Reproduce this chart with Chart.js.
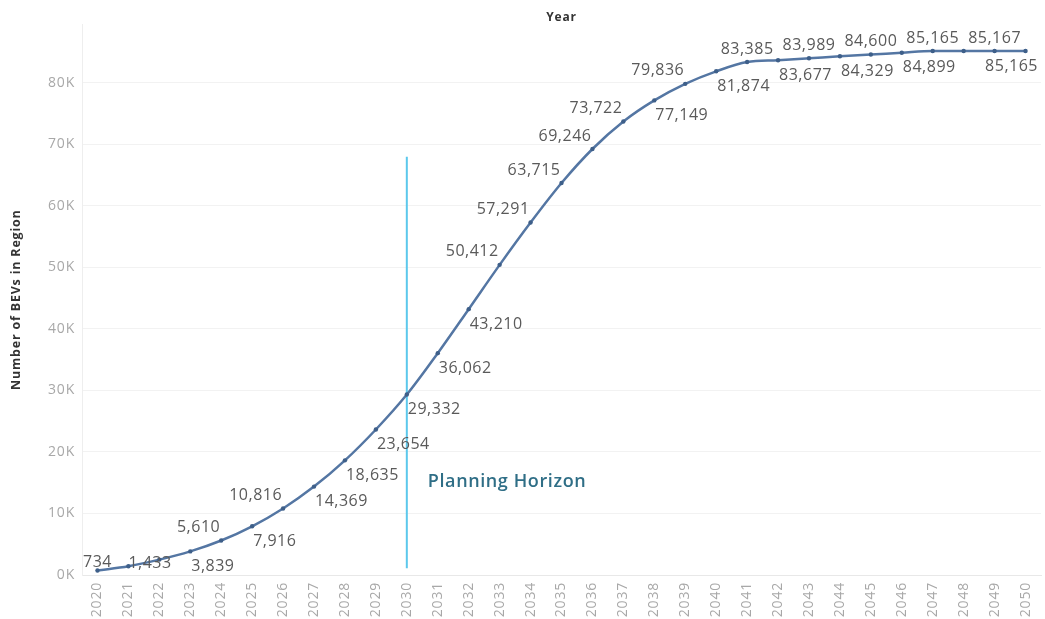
<!DOCTYPE html>
<html lang="en">
<head>
    <meta charset="UTF-8">
    <title>Number of BEVs in Region</title>
    <script src="https://cdn.jsdelivr.net/npm/chart.js"></script>
    <style>
        html, body {
            margin: 0;
            padding: 0;
            background: #fff;
            overflow: hidden;
        }
        canvas {
            display: block;
        }
    </style>
</head>
<body>
    <canvas id="bevChart" width="1045" height="619"></canvas>

    <script>
        // data
        const years = ['2020','2021','2022','2023','2024','2025','2026','2027','2028','2029',
                       '2030','2031','2032','2033','2034','2035','2036','2037','2038','2039',
                       '2040','2041','2042','2043','2044','2045','2046','2047','2048','2049','2050'];
        const bevCounts = [734, 1433, 2500, 3839, 5610, 7916, 10816, 14369, 18635, 23654,
                           29332, 36062, 43210, 50412, 57291, 63715, 69246, 73722, 77149, 79836,
                           81874, 83385, 83677, 83989, 84329, 84600, 84899, 85165, 85166, 85167, 85165];
        // where each value label sits: o = on point, r = right, rb = right-below,
        // la = left-above, a = above, '' = no label
        const labelPlacement = ['o','r','','rb','la','rb','la','rb','rb','rb',
                                'rb','rb','rb','la','la','la','la','la','rb','la',
                                'rb','a','rb','a','rb','a','rb','a','','a','rb'];
        const yTicks = [0, 10000, 20000, 30000, 40000, 50000, 60000, 70000, 80000];
        const yMax = 89500;

        const horizonYear = '2030';
        const horizonTop = 68000;
        const horizonBottom = 1100;
        const horizonText = 'Planning Horizon';
        const horizonTextValue = 15100;

        Chart.defaults.font.family = "'Open Sans', sans-serif";

        const spacingPlugin = {
            id: 'spacing',
            beforeDraw(chart) {
                chart.ctx.letterSpacing = '0.8px';
            }
        };

        const horizonPlugin = {
            id: 'horizon',
            beforeDatasetsDraw(chart) {
                const c = chart.ctx, xs = chart.scales.x, ys = chart.scales.y;
                const x = xs.getPixelForValue(years.indexOf(horizonYear));
                c.save();
                c.strokeStyle = '#5cc8ec';
                c.lineWidth = 2;
                c.beginPath();
                c.moveTo(x, ys.getPixelForValue(horizonTop));
                c.lineTo(x, ys.getPixelForValue(horizonBottom));
                c.stroke();
                c.fillStyle = '#2f6e86';
                c.letterSpacing = '0.6px';
                c.font = "600 18px 'Open Sans', sans-serif";
                c.textAlign = 'left';
                c.textBaseline = 'middle';
                c.fillText(horizonText, x + 21, ys.getPixelForValue(horizonTextValue));
                c.restore();
            }
        };

        const labelPlugin = {
            id: 'valueLabels',
            afterDatasetsDraw(chart) {
                const c = chart.ctx;
                const pts = chart.getDatasetMeta(0).data;
                const area = chart.chartArea;
                c.save();
                c.letterSpacing = '0.5px';
                c.font = "16px 'Open Sans', sans-serif";
                c.fillStyle = '#5a5a5a';
                c.textBaseline = 'middle';
                pts.forEach((p, i) => {
                    const pos = labelPlacement[i];
                    if (!pos) return;
                    const txt = bevCounts[i].toLocaleString('en-US');
                    const w = c.measureText(txt).width;
                    let left, y;
                    if (pos === 'o') { left = p.x - w / 2; y = p.y - 8; }
                    else if (pos === 'r') { left = p.x; y = p.y - 3; }
                    else if (pos === 'rb') { left = p.x + 1; y = p.y + 15; }
                    else if (pos === 'la') { left = p.x - 1 - w; y = p.y - 13; }
                    else { left = p.x - w / 2; y = p.y - 13; }
                    if (left + w > area.right - 3) left = area.right - 3 - w;
                    c.textAlign = 'left';
                    c.fillText(txt, left, y);
                });
                c.restore();
            }
        };

        let ctx = document.getElementById('bevChart').getContext('2d');

        let chart = new Chart(ctx, {
            type: 'line',
            data: {
                labels: years,
                datasets: [{
                    label: 'Number of BEVs in Region',
                    data: bevCounts,
                    borderColor: '#5476a3',
                    borderWidth: 2.5,
                    pointRadius: 2.2,
                    pointBackgroundColor: '#3e5f89',
                    pointBorderWidth: 0,
                    cubicInterpolationMode: 'monotone',
                    fill: false
                }]
            },
            options: {
                responsive: false,
                animation: false,
                devicePixelRatio: 1,
                layout: { padding: { left: 0, right: 0, top: 0, bottom: 0 } },
                plugins: {
                    legend: { display: false },
                    tooltip: { enabled: false },
                    title: {
                        display: true,
                        text: 'Year',
                        fullSize: false,
                        color: '#333',
                        font: { size: 12, weight: 'bold' },
                        padding: { top: 10, bottom: 0 }
                    }
                },
                scales: {
                    x: {
                        offset: true,
                        grid: { display: false, drawTicks: false },
                        border: { color: '#e8e8e8' },
                        ticks: {
                            color: '#a8a8a8',
                            font: { size: 14 },
                            minRotation: 90,
                            maxRotation: 90,
                            padding: 7,
                            autoSkip: false
                        },
                        afterFit(scale) {
                            scale.height = 44;
                            scale.paddingLeft = 0;
                            scale.paddingRight = 2;
                        }
                    },
                    y: {
                        min: 0,
                        max: yMax,
                        afterBuildTicks(scale) {
                            scale.ticks = yTicks.map(v => ({ value: v }));
                        },
                        grid: { color: '#f2f2f2', drawTicks: false },
                        border: { color: '#eeeeee' },
                        ticks: {
                            color: '#a8a8a8',
                            font: { size: 14 },
                            padding: 7,
                            callback: v => (v / 1000) + 'K'
                        },
                        title: {
                            display: true,
                            text: 'Number of BEVs in Region',
                            color: '#333',
                            font: { size: 12.5, weight: 'bold' },
                            padding: { top: 9, bottom: 0 }
                        },
                        afterFit(scale) { scale.width = 82; }
                    }
                }
            },
            plugins: [spacingPlugin, horizonPlugin, labelPlugin]
        });
    </script>
</body>
</html>
